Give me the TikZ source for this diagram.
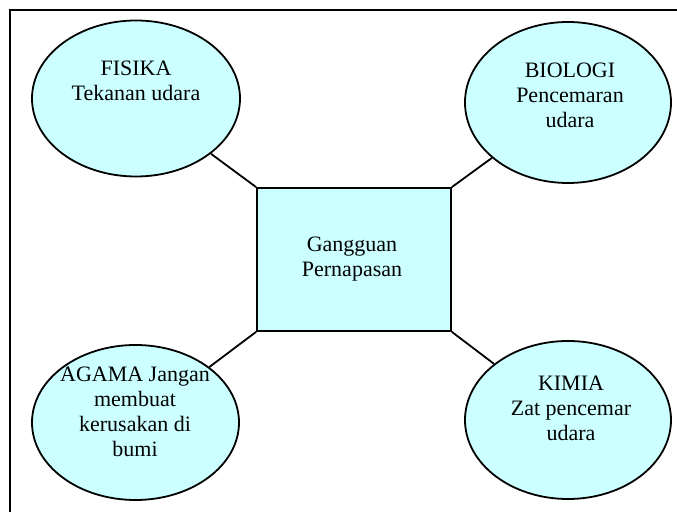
\documentclass[tikz,border=0pt]{standalone}
\usepackage{fontspec}
\setmainfont{Liberation Serif}
\usetikzlibrary{shapes.geometric}

\definecolor{skyfill}{HTML}{CCFFFF}
\tikzset{
  bubble/.style={ellipse, draw, line width=0.9pt, fill=skyfill, inner sep=0pt},
  centerbox/.style={rectangle, draw, line width=0.9pt, fill=skyfill, minimum width=97pt, minimum height=71.5pt},
  txt/.style={align=center, anchor=base, inner sep=0pt, font=\fontsize{11}{12.5}\selectfont},
  link/.style={line width=0.9pt}
}

\begin{document}
\begin{tikzpicture}[x=0.5pt, y=-0.5pt]
        \useasboundingbox (0,0) rectangle (677,512);
        % Draw frame
        \draw[line width=0.9pt] (10,512) -- (10,10) -- (677,10);

        % Centre box
        \node[centerbox] (box) at (354,259.5) {};
        \node[txt] (boxt) at (352,277) {Gangguan\\Pernapasan};

        % Four bubbles
        \node[bubble, minimum width=104pt, minimum height=78pt] (fis) at (136,98.5) {};
        \node[bubble, minimum width=103pt, minimum height=80.5pt] (bio) at (568,102.5) {};
        \node[bubble, minimum width=103.5pt, minimum height=77.5pt] (aga) at (135.5,422.5) {};
        \node[bubble, minimum width=103pt, minimum height=79pt] (kim) at (568,420) {};

        % Texts (base = last line)
        \node[txt] (fist) at (136,101) {FISIKA\\Tekanan udara};
        \node[txt] (biot) at (570,128) {BIOLOGI\\Pencemaran\\udara};
        \node[txt] (agat) at (135,457) {AGAMA Jangan\\membuat\\kerusakan di\\bumi};
        \node[txt] (kimt) at (571,441) {KIMIA\\Zat pencemar\\udara};

        % Draw links
        \draw[link] (box.north west) -- (fis);
        \draw[link] (box.north east) -- (bio);
        \draw[link] (box.south west) -- (aga);
        \draw[link] (box.south east) -- (kim);
    \end{tikzpicture}
\end{document}
